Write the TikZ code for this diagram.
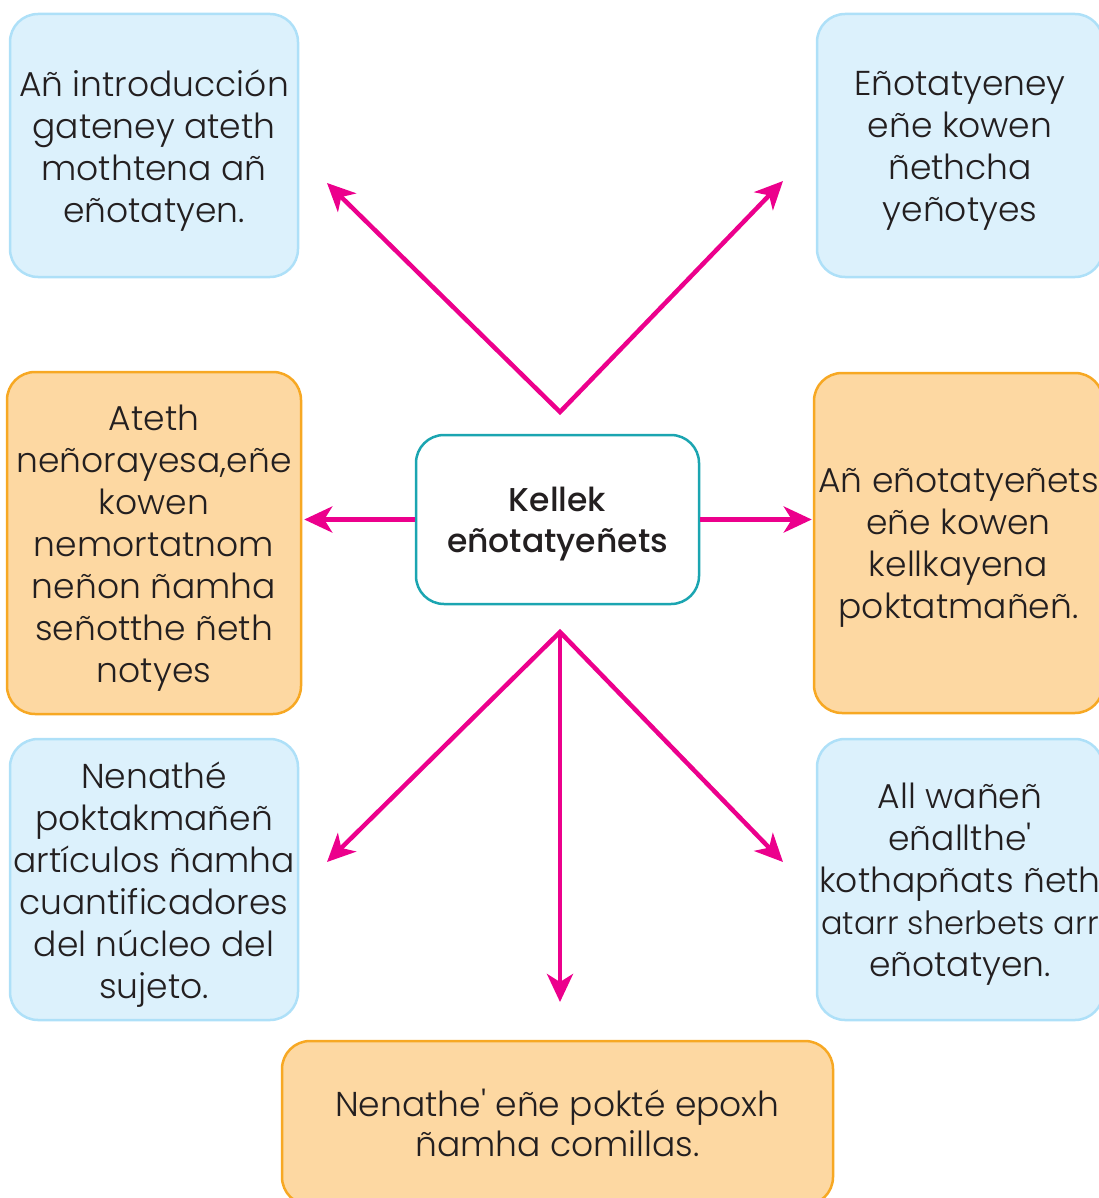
\documentclass[tikz,border=0pt]{standalone}
\usepackage{fontspec}
\setmainfont{Poppins}[UprightFont=* Light, BoldFont=* Medium]
\usetikzlibrary{arrows.meta}
\definecolor{ink}{HTML}{231F20}
\definecolor{bluefill}{HTML}{DCF1FC}
\definecolor{blueline}{HTML}{AEE0F8}
\definecolor{orangefill}{HTML}{FDD8A2}
\definecolor{orangeline}{HTML}{F7A823}
\definecolor{tealline}{HTML}{1BA5B1}
\definecolor{linkcol}{HTML}{EC008C}
\begin{document}
\begin{tikzpicture}[x=1pt,y=-1pt,
  >={Stealth[length=28pt,width=26pt,inset=8pt]},
  box/.style={rounded corners=28pt, line width=2.5pt, inner sep=0pt},
  boxtext/.style={align=center, text=ink, inner sep=0pt, yshift=-5pt,
    font=\fontsize{34.5}{42}\selectfont},
  says/.style={label={[boxtext]center:{#1}}},
  bluebox/.style={box, draw=blueline, fill=bluefill},
  orangebox/.style={box, draw=orangeline, fill=orangefill},
  corebox/.style={box, draw=tealline, fill=white},
  coretext/.style={boxtext, yshift=0.5pt, font=\fontsize{33}{41}\selectfont\bfseries},
  widetext/.style={boxtext, yshift=5pt, font=\fontsize{34.5}{39.5}\selectfont},
  link/.style={draw=linkcol, line width=4.5pt, line join=miter, ->},
  vlink/.style={draw=linkcol, line width=4.5pt, line join=miter, <->}]
\useasboundingbox (0,0) rectangle (1099,1198);

% top row
\node[bluebox, minimum width=288pt, minimum height=263pt,
  says={Añ introducción\\gateney ateth\\mothtena añ\\eñotatyen.}] (intro) at (154,145.5) {};
\node[bluebox, minimum width=286pt, minimum height=263pt,
  says={Eñotatyeney\\eñe kowen\\ñethcha\\yeñotyes}] (kowen) at (960,145.5) {};

% middle row
\node[orangebox, minimum width=294pt, minimum height=342pt,
  says={Ateth\\neñorayesa,eñe\\kowen\\nemortatnom\\neñon ñamha\\señotthe ñeth\\notyes}] (ateth) at (154,543) {};
\node[corebox, minimum width=283pt, minimum height=169pt,
  label={[coretext]center:{Kellek\\eñotatyeñets}}] (core) at (557.5,519.5) {};
\node[orangebox, minimum width=289pt, minimum height=340pt,
  says={Añ eñotatyeñets\\eñe kowen\\kellkayena\\poktatmañeñ.}] (kellka) at (958.5,543) {};

% bottom row
\node[bluebox, minimum width=288pt, minimum height=281pt,
  says={Nenathé\\poktakmañeñ\\artículos ñamha\\cuantificadores\\del núcleo del\\sujeto.}] (nucleo) at (154,879.5) {};
\node[bluebox, minimum width=286pt, minimum height=281pt,
  says={All wañeñ\\eñallthe\textquotesingle\\kothapñats ñeth\\{\fontsize{32}{42}\selectfont atarr sherbets arr}\\eñotatyen.}] (sherbets) at (960,879.5) {};
\node[orangebox, minimum width=551pt, minimum height=164pt,
  label={[widetext]center:{Nenathe\textquotesingle{} eñe pokté epoxh\\ñamha comillas.}}] (comillas) at (557.5,1123) {};

% connector apexes and free arrow ends
\coordinate (upapex) at (560,412);
\coordinate (downapex) at (560,632);
\coordinate (tl) at (327,183);
\coordinate (tr) at (783,181);
\coordinate (bl) at (327,862);
\coordinate (br) at (783,862);
\coordinate (bm) at (560,1002);

% connectors
\draw[vlink] (tl) -- (upapex) -- (tr);
\draw[link] (core.west) -- ([xshift=2pt]ateth.east |- core.west);
\draw[link] (core.east) -- ([xshift=-1pt]kellka.west |- core.east);
\draw[vlink] (bl) -- (downapex) -- (br);
\draw[link] (downapex) -- (bm);
\end{tikzpicture}
\end{document}
